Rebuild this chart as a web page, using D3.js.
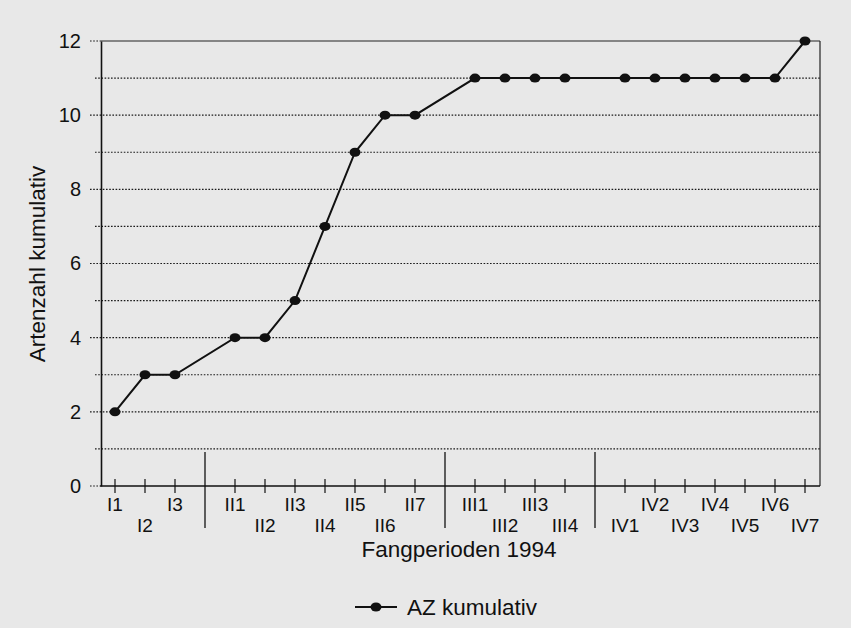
<!DOCTYPE html>
<html>
<head>
<meta charset="utf-8">
<script src="https://cdn.jsdelivr.net/npm/d3@7"></script>
<style>
  html, body { margin: 0; padding: 0; background: #e8e8e8; }
  svg { display: block; }
  text { font-family: "Liberation Sans", Arial, sans-serif; fill: #111; }
</style>
</head>
<body>
<svg id="chart" width="851" height="628"></svg>
<script>
// ---- data ----
const categories = ["I1","I2","I3","II1","II2","II3","II4","II5","II6","II7",
                    "III1","III2","III3","III4","IV1","IV2","IV3","IV4","IV5","IV6","IV7"];
const groups = ["I","I","I","II","II","II","II","II","II","II",
                "III","III","III","III","IV","IV","IV","IV","IV","IV","IV"];
const values = [2,3,3,4,4,5,7,9,10,10,11,11,11,11,11,11,11,11,11,11,12];
const yTicks = [0,2,4,6,8,10,12];
const yTitle = "Artenzahl kumulativ";
const xTitle = "Fangperioden 1994";
const seriesName = "AZ kumulativ";

// ---- build slots (separators between groups) ----
const slots = [];
categories.forEach((c, i) => {
  if (i > 0 && groups[i] !== groups[i-1]) slots.push({sep: true});
  slots.push({sep: false, label: c, value: values[i]});
});
slots.forEach((s, i) => s.idx = i);

const svg = d3.select("#chart");
const pLeft = 100, pRight = 820, pTop = 41, pBottom = 486;

const x = d3.scalePoint().domain(d3.range(slots.length)).range([pLeft, pRight]).padding(0.5);
const y = d3.scaleLinear().domain([0, 12]).range([pBottom, pTop]);

const g = svg.append("g");

// gridlines (dotted) incl. left extension
g.selectAll("line.grid").data(d3.range(0, 12)).enter().append("line")
  .attr("x1", d => (d % 2 === 0) ? pLeft - 10 : pLeft - 5)
  .attr("x2", d => d === 0 ? pLeft : pRight)
  .attr("y1", d => y(d)).attr("y2", d => y(d))
  .attr("stroke", "#1a1a1a").attr("stroke-width", 1.2)
  .attr("stroke-dasharray", "1.6,1.6");
g.append("line").attr("x1", pLeft - 10).attr("x2", pLeft).attr("y1", y(12)).attr("y2", y(12))
  .attr("stroke", "#1a1a1a").attr("stroke-width", 1.2).attr("stroke-dasharray", "1.6,1.6");

// frame: top and right solid
g.append("line").attr("x1", pLeft).attr("x2", pRight).attr("y1", y(12)).attr("y2", y(12))
  .attr("stroke", "#222").attr("stroke-width", 1.2);
g.append("line").attr("x1", pRight).attr("x2", pRight).attr("y1", y(12)).attr("y2", y(0))
  .attr("stroke", "#222").attr("stroke-width", 1.2);

// y axis
const yAxis = d3.axisLeft(y).tickValues(yTicks).tickSize(0).tickPadding(20);
const ya = g.append("g").attr("transform", `translate(${pLeft+1},0)`).call(yAxis);
ya.select(".domain").attr("stroke", "#111").attr("stroke-width", 1.6);
ya.selectAll("text").style("font-size", "20px").attr("fill", "#111")
  .style("font-family", '"Liberation Sans", Arial, sans-serif');

// x axis
const xAxis = d3.axisBottom(x).tickSize(0).tickFormat(() => "");
const xa = g.append("g").attr("transform", `translate(0,${pBottom})`).call(xAxis);
xa.select(".domain").attr("d", `M${pLeft},0H${pRight}`).attr("stroke", "#111").attr("stroke-width", 1.4);

// category ticks
g.selectAll("line.ctick").data(slots.filter(s => !s.sep)).enter().append("line")
  .attr("x1", d => x(d.idx)).attr("x2", d => x(d.idx))
  .attr("y1", pBottom - 7).attr("y2", pBottom + 7)
  .attr("stroke", "#111").attr("stroke-width", 1.2);
// group separators
g.selectAll("line.sep").data(slots.filter(s => s.sep)).enter().append("line")
  .attr("x1", d => x(d.idx)).attr("x2", d => x(d.idx))
  .attr("y1", y(1) + 3).attr("y2", pBottom + 42)
  .attr("stroke", "#111").attr("stroke-width", 1.3);

// category labels, staggered by slot index
g.selectAll("text.cat").data(slots.filter(s => !s.sep)).enter().append("text")
  .attr("x", d => x(d.idx))
  .attr("y", d => d.idx % 2 === 0 ? 511 : 532)
  .attr("text-anchor", "middle")
  .style("font-size", "19px")
  .text(d => d.label);

// line
const pts = slots.filter(s => !s.sep);
const line = d3.line().x(d => x(d.idx)).y(d => y(d.value));
g.append("path").datum(pts).attr("d", line)
  .attr("fill", "none").attr("stroke", "#111").attr("stroke-width", 2);
g.selectAll("ellipse.pt").data(pts).enter().append("ellipse")
  .attr("cx", d => x(d.idx)).attr("cy", d => y(d.value))
  .attr("rx", 5.5).attr("ry", 4.5).attr("fill", "#111");

// titles
svg.append("text").attr("x", 459).attr("y", 557).attr("text-anchor", "middle")
  .style("font-size", "22.5px").text(xTitle);
svg.append("text").attr("transform", "translate(45,264) rotate(-90)")
  .attr("text-anchor", "middle").style("font-size", "22.5px").text(yTitle);

// legend
const lg = svg.append("g");
lg.append("line").attr("x1", 355).attr("x2", 397).attr("y1", 607).attr("y2", 607)
  .attr("stroke", "#111").attr("stroke-width", 2);
lg.append("ellipse").attr("cx", 376).attr("cy", 607).attr("rx", 5.5).attr("ry", 4.5).attr("fill", "#111");
lg.append("text").attr("x", 407).attr("y", 615).style("font-size", "22.5px").text(seriesName);
</script>
</body>
</html>
